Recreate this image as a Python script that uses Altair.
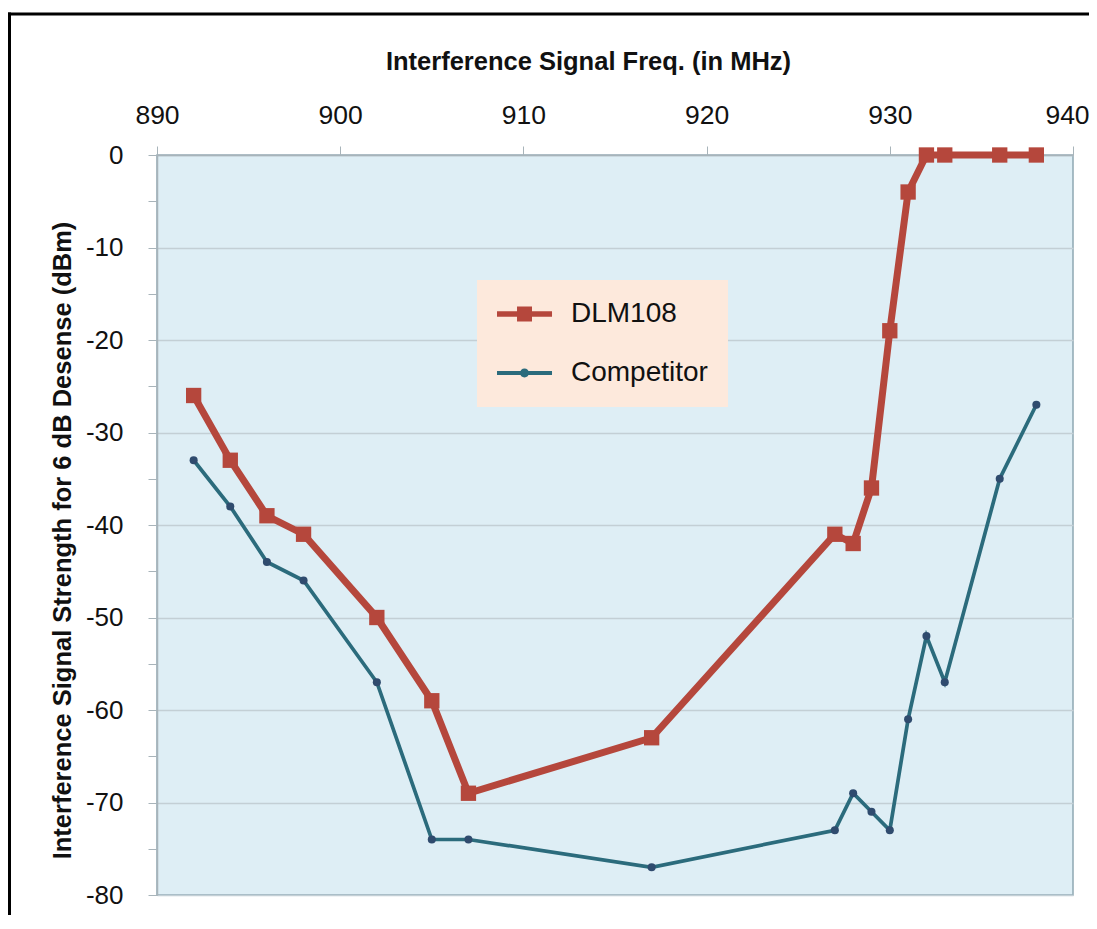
import altair as alt
import pandas as pd

# ---- data ----
freq = [892, 894, 896, 898, 902, 905, 907, 917, 927, 928, 929, 930, 931, 932, 933, 936, 938]
dlm108 = [-26, -33, -39, -41, -50, -59, -69, -63, -41, -42, -36, -19, -4, 0, 0, 0, 0]
competitor = [-33, -38, -44, -46, -57, -74, -74, -77, -73, -69, -71, -73, -61, -52, -57, -35, -27]
series_names = ["DLM108", "Competitor"]
x_ticks = [890, 900, 910, 920, 930, 940]
y_ticks = list(range(-80, 5, 5))

rows = []
for f, a, b in zip(freq, dlm108, competitor):
    rows.append({"series": "DLM108", "freq": f, "value": a})
    rows.append({"series": "Competitor", "freq": f, "value": b})
df = pd.DataFrame(rows)

RED = "#b5473c"
TEAL = "#2b6b7c"
NAVY = "#2f4b6e"
FONT = "Liberation Sans"

xscale = alt.Scale(domain=[890, 940], nice=False, zero=False)
yscale = alt.Scale(domain=[-80, 0], nice=False, zero=False)

x_axis = alt.Axis(
    orient="top", values=x_ticks, grid=False, title="Interference Signal Freq. (in MHz)",
    labelFontSize=26.5, labelFont=FONT, labelColor="#111111", labelFlush=False, labelOverlap=False,
    labelOffset=alt.condition("datum.value == 940", alt.value(-6), alt.value(0)),
    labelBaseline="alphabetic", labelPadding=23, tickSize=9, tickColor="#a8b4ba", domainColor="#a8b4ba",
    domainWidth=1.5, titleFont=FONT, titleFontSize=25.5, titleFontWeight="bold", titleColor="#111111",
    titleX=431, titleY=-86, titleBaseline="alphabetic", titleAlign="center",
)
y_axis = alt.Axis(
    values=y_ticks, title="Interference Signal Strength for 6 dB Desense (dBm)",
    labelExpr="datum.value % 10 == 0 ? '' + datum.value : ''",
    labelFontSize=26, labelFont=FONT, labelColor="#111111", labelPadding=25, labelOverlap=False,
    tickSize=9, tickColor="#a8b4ba", domainColor="#a8b4ba", domainWidth=1.5,
    gridColor="#c3cfd5", gridWidth=1.5,
    gridOpacity=alt.condition("datum.value % 10 == 0", alt.value(1), alt.value(0)),
    titleFont=FONT, titleFontSize=25.5, titleFontWeight="bold", titleColor="#111111",
    titleX=-87, titleY=385, titleBaseline="alphabetic", titleAlign="center",
)

base = alt.Chart(df).encode(
    x=alt.X("freq:Q", scale=xscale, axis=x_axis),
    y=alt.Y("value:Q", scale=yscale, axis=y_axis),
)

comp_line = base.transform_filter("datum.series == 'Competitor'").mark_line(color=TEAL, strokeWidth=3.7)
comp_pts = base.transform_filter("datum.series == 'Competitor'").mark_circle(color=NAVY, size=65, opacity=1)
dlm_line = base.transform_filter("datum.series == 'DLM108'").mark_line(color=RED, strokeWidth=7)
dlm_pts = base.transform_filter("datum.series == 'DLM108'").mark_square(color=RED, size=235, opacity=1)

path_dlm = "M-1,-0.2H2.93V0.2H-1Z M0.43,-0.53H1.5V0.53H0.43Z"
path_comp = "M-1,-0.15H2.93V0.15H-1Z M0.644,0A0.32,0.32 0 1,1 1.284,0A0.32,0.32 0 1,1 0.644,0Z"

legend = alt.Legend(
    title=None, orient="none", legendX=320, legendY=125, fillColor="#fde9dc",
    padding=20, labelFont=FONT, labelFontSize=28, labelColor="#111111", labelOffset=46,
    symbolSize=784, symbolStrokeWidth=0, symbolOpacity=1, rowPadding=31,
)
legend_layer = base.transform_filter("false").mark_point(filled=True, opacity=1, strokeWidth=0).encode(
    fill=alt.Fill("series:N", scale=alt.Scale(domain=series_names, range=[RED, TEAL]), legend=legend),
    shape=alt.Shape("series:N", scale=alt.Scale(domain=series_names, range=[path_dlm, path_comp]), legend=legend),
)

frame_src = alt.Chart(pd.DataFrame({"k": [0]}))
frame_left = frame_src.mark_rule(color="black", strokeWidth=3).encode(
    x=alt.value(-147.5), y=alt.value(-142.5), y2=alt.value(800))
frame_top = frame_src.mark_rule(color="black", strokeWidth=3).encode(
    x=alt.value(-149), x2=alt.value(960), y=alt.value(-141))

chart = alt.layer(
    comp_line, comp_pts, dlm_line, dlm_pts, legend_layer, frame_left, frame_top
).properties(
    width=916, height=740,
    autosize=alt.AutoSizeParams(type="none"),
    padding={"left": 149, "top": 147, "right": 16, "bottom": 20},
    background="white",
).configure_view(
    fill="#deeef5", stroke="#8fa8b3", strokeWidth=1.5
)

chart.save("out.html", embed_options={"renderer": "svg", "actions": False})
